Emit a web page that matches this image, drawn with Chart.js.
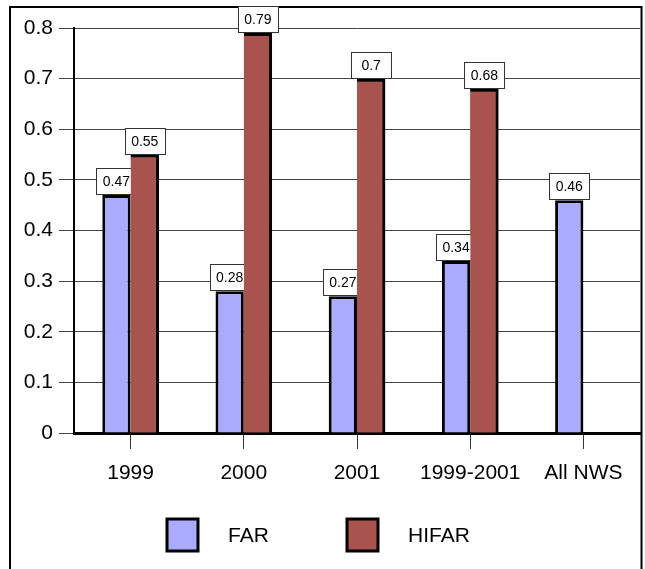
<!DOCTYPE html>
<html>
<head>
<meta charset="utf-8">
<script src="https://cdn.jsdelivr.net/npm/chart.js@4/dist/chart.umd.min.js"></script>
<style>
  html, body { margin: 0; padding: 0; background: #fff; }
  #wrap { width: 645px; height: 569px; }
</style>
</head>
<body>
<div id="wrap"><canvas id="c" width="645" height="569"></canvas></div>
<script>
// Categories and series
const categories = ['1999', '2000', '2001', '1999-2001', 'All NWS'];
const farValues = [0.47, 0.28, 0.27, 0.34, 0.46];
const hifarValues = [0.55, 0.79, 0.70, 0.68, null];
const seriesNames = ['FAR', 'HIFAR'];
const seriesColors = ['#aaaaff', '#a9534f'];
const yTickLabels = ['0', '0.1', '0.2', '0.3', '0.4', '0.5', '0.6', '0.7', '0.8'];

const FONT = "'Liberation Sans', Arial, sans-serif";

// outer frame of the chart
const framePlugin = {
  id: 'frame',
  beforeDraw(chart) {
    const ctx = chart.ctx;
    ctx.save();
    ctx.fillStyle = '#fff';
    ctx.fillRect(0, 0, chart.width, chart.height);
    ctx.strokeStyle = '#000';
    ctx.lineWidth = 2;
    ctx.strokeRect(10, 7, 631.5, 600);
    ctx.restore();
  }
};

function drawValueBoxes(chart, dsIndex) {
  const ctx = chart.ctx;
  const meta = chart.getDatasetMeta(dsIndex);
  const values = chart.data.datasets[dsIndex].data;
  ctx.save();
  ctx.font = '14px ' + FONT;
  ctx.textAlign = 'center';
  ctx.textBaseline = 'middle';
  meta.data.forEach((bar, i) => {
    const v = values[i];
    if (v === null || v === undefined) return;
    const w = 40, h = 26;
    const x = Math.round(bar.x - w / 2) + 0.5;
    const y = Math.round(bar.y - h - 1) + 0.5;
    ctx.fillStyle = '#fff';
    ctx.fillRect(x, y, w, h);
    ctx.strokeStyle = '#333';
    ctx.lineWidth = 1;
    ctx.strokeRect(x, y, w, h);
    ctx.fillStyle = '#000';
    ctx.fillText(String(v), bar.x, y + h / 2 + 1);
  });
  ctx.restore();
}

// value boxes: FAR boxes sit behind the HIFAR bars
const valueBoxPlugin = {
  id: 'valueBoxes',
  afterDatasetsDraw(chart) {
    drawValueBoxes(chart, 0);
    const ctx = chart.ctx;
    chart.getDatasetMeta(1).data.forEach(bar => bar.draw(ctx));
    drawValueBoxes(chart, 1);
  }
};

// legend row under the axis
const legendPlugin = {
  id: 'legendRow',
  afterDraw(chart) {
    const ctx = chart.ctx;
    const items = [
      { box: 167, text: 228 },
      { box: 347, text: 408 }
    ];
    ctx.save();
    ctx.font = '21px ' + FONT;
    ctx.textBaseline = 'middle';
    ctx.textAlign = 'left';
    chart.data.datasets.forEach((ds, i) => {
      const it = items[i];
      ctx.fillStyle = ds.backgroundColor;
      ctx.fillRect(it.box, 519, 31, 32);
      ctx.strokeStyle = '#000';
      ctx.lineWidth = 3;
      ctx.strokeRect(it.box, 519, 31, 32);
      ctx.fillStyle = '#000';
      ctx.fillText(ds.label, it.text, 536);
    });
    ctx.restore();
  }
};

new Chart(document.getElementById('c'), {
  type: 'bar',
  data: {
    labels: categories,
    datasets: [
      {
        label: seriesNames[0],
        data: farValues,
        backgroundColor: seriesColors[0],
        borderColor: '#000',
        borderWidth: { top: 3, left: 3, right: 3, bottom: 0 },
        borderSkipped: 'start'
      },
      {
        label: seriesNames[1],
        data: hifarValues,
        backgroundColor: seriesColors[1],
        borderColor: '#000',
        borderWidth: { top: 3, left: 0, right: 3, bottom: 0 },
        borderSkipped: 'start'
      }
    ]
  },
  options: {
    responsive: false,
    animation: false,
    devicePixelRatio: 1,
    layout: { padding: { left: 0, right: 5, top: 28, bottom: 86 } },
    categoryPercentage: 0.5,
    barPercentage: 1.0,
    plugins: {
      legend: { display: false },
      tooltip: { enabled: false }
    },
    scales: {
      x: {
        grid: {
          offset: false,
          drawOnChartArea: false,
          drawTicks: true,
          tickLength: 16,
          color: '#333',
          lineWidth: 1
        },
        border: { display: true, color: '#000', width: 3 },
        ticks: {
          font: { family: FONT, size: 21 },
          color: '#000',
          padding: 12,
          maxRotation: 0,
          autoSkip: false
        },
        afterFit(scale) { scale.height = 50; }
      },
      y: {
        min: 0,
        max: 0.8,
        grid: {
          color: '#444',
          lineWidth: 1,
          drawTicks: true,
          tickLength: 15
        },
        border: { display: true, color: '#000', width: 2 },
        ticks: {
          stepSize: 0.1,
          font: { family: FONT, size: 21 },
          color: '#000',
          padding: 6,
          callback: (value, index) => yTickLabels[index]
        },
        afterFit(scale) { scale.width = 74; }
      }
    }
  },
  plugins: [framePlugin, valueBoxPlugin, legendPlugin]
});
</script>
</body>
</html>
